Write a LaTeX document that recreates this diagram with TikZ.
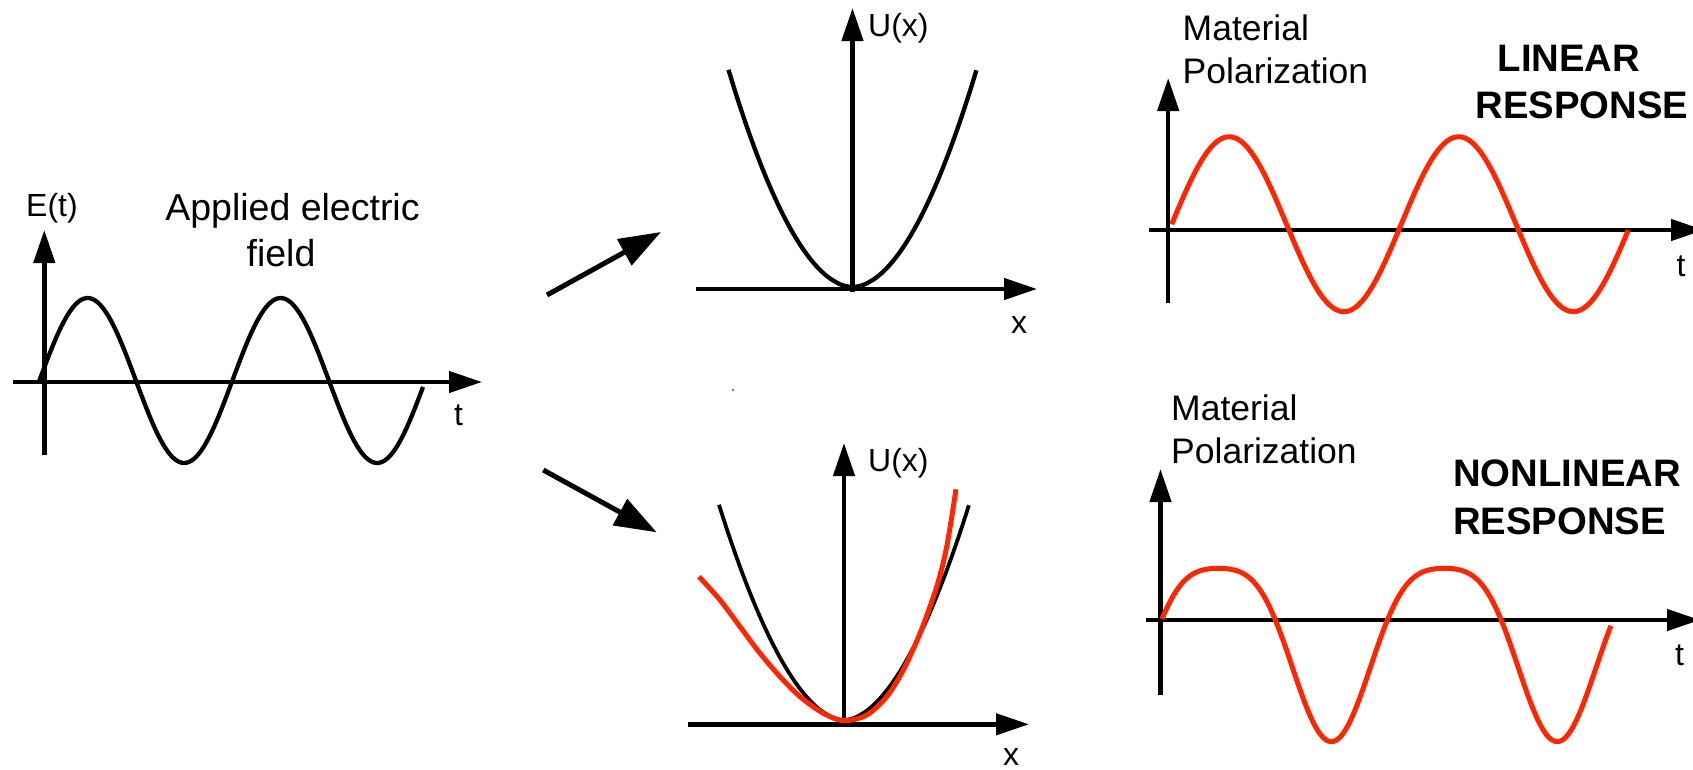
\documentclass[tikz,border=0pt]{standalone}
\usepackage{fontspec}
\setmainfont{Liberation Sans}
\usetikzlibrary{arrows.meta}
\definecolor{pred}{RGB}{255,38,0}
\begin{document}
\begin{tikzpicture}[x=1pt,y=-1pt,
  axis/.style={line width=4.5pt,-{Triangle[length=33pt,width=21pt]}},
  bigarrow/.style={line width=5pt,-{Triangle[length=42pt,width=29pt]}},
  blackcurve/.style={line width=4.3pt,line join=round},
  redcurve/.style={line width=5pt,draw=pred,line join=round},
  lblax/.style={inner sep=0pt,font=\fontsize{32}{38}\selectfont},
  lblapp/.style={inner sep=0pt,font=\fontsize{37.5}{45}\selectfont},
  lblmat/.style={inner sep=0pt,font=\fontsize{35.5}{43}\selectfont},
  lblbold/.style={inner sep=0pt,font=\fontsize{38.3}{46}\selectfont\bfseries}]
\useasboundingbox (0,0) rectangle (1693,769);
\clip (0,0) rectangle (1693,769);

% ---------- Panel 1: applied field ----------
\coordinate (Ebot) at (44.3,455);
\coordinate (Etop) at (44.3,230);
\coordinate (t1l) at (13,382);
\coordinate (t1r) at (482,382);
\draw[axis] (Ebot) -- (Etop);
\draw[axis] (t1l) -- (t1r);
\draw[blackcurve] plot[domain=0:12.49,samples=140] ({39.4+193*\x/6.28319},{380.5-82.5*sin(\x r)});
\node[lblax,anchor=base west] (Et) at (26,216.7) {E(t)};
\node[lblax,anchor=base] (t1) at (458.5,425) {t};
\node[lblapp,anchor=base] (app1) at (292.5,220) {Applied electric};
\node[lblapp,anchor=base] (app2) at (281,266.7) {field};

% ---------- arrows ----------
\coordinate (a1s) at (547,295);
\coordinate (a1e) at (661,232);
\coordinate (a2s) at (543.3,470);
\coordinate (a2e) at (656.7,532.3);
\draw[bigarrow] (a1s) -- (a1e);
\draw[bigarrow] (a2s) -- (a2e);
\fill[gray] (732.3,389) rectangle (734.3,391);

% ---------- Panel 2: harmonic potential ----------
\coordinate (U1b) at (852.5,292);
\coordinate (U1t) at (852.5,8);
\coordinate (x1l) at (696,289);
\coordinate (x1r) at (1037,289);
\draw[axis] (U1b) -- (U1t);
\draw[axis] (x1l) -- (x1r);
\draw[blackcurve] plot[domain=-1:1,samples=101] ({852.5+124*\x},{287-217*exp(1.9*ln(abs(\x)+0.0005))});
\node[lblax,anchor=base west] (U1) at (868,36.5) {U(x)};
\node[lblax,anchor=base] (x1) at (1019,333.3) {x};

% ---------- Panel 3: anharmonic potential ----------
\coordinate (U2b) at (844,727);
\coordinate (U2t) at (844,443);
\coordinate (x2l) at (688,724.3);
\coordinate (x2r) at (1029,724.3);
\draw[axis] (U2b) -- (U2t);
\draw[axis] (x2l) -- (x2r);
\draw[blackcurve,line width=3.8pt] plot[domain=-1:1,samples=101] ({844+125*\x},{720-215*exp(1.85*ln(abs(\x)+0.0005))});
\draw[redcurve] plot[smooth] coordinates {(699,576.7) (720,600) (740,626.7) (760,653.3) (780,676.7) (800,696.7) (823.3,713.3) (844,720.7) (866.7,715) (886.7,696.7) (903.3,670) (920,633.3) (936.7,586.7) (946.7,546.7) (956,489.3)};
\node[lblax,anchor=base west] (U2) at (868,471.6) {U(x)};
\node[lblax,anchor=base] (x2) at (1011,765.5) {x};

% ---------- Panel 4: linear response ----------
\coordinate (P1b) at (1168.2,303.3);
\coordinate (P1t) at (1168.2,78);
\coordinate (t2l) at (1148.8,230);
\coordinate (t2r) at (1704,230);
\draw[axis] (P1b) -- (P1t);
\draw[axis] (t2l) -- (t2r);
\draw[redcurve] plot[domain=0:12.5,samples=140] ({1171.7+229.5*\x/6.28319},{224.2-87.5*sin(\x r)});
\node[lblmat,anchor=base west] (mat1) at (1182.5,40.7) {Material};
\node[lblmat,anchor=base west] (pol1) at (1182.5,83.3) {Polarization};
\node[lblbold,anchor=base] (lin1) at (1569,71.7) {LINEAR};
\node[lblbold,anchor=base] (resp1) at (1582,118.3) {RESPONSE};
\node[lblax,anchor=base] (t2) at (1681,276.7) {t};

% ---------- Panel 5: nonlinear response ----------
\coordinate (P2b) at (1160.5,695);
\coordinate (P2t) at (1160.5,469);
\coordinate (t3l) at (1146.3,620);
\coordinate (t3r) at (1700,620);
\draw[axis] (P2b) -- (P2t);
\draw[axis] (t3l) -- (t3r);
\draw[redcurve] plot[domain=0:12.49,samples=160] ({1162+225.8*\x/6.28319},{619-(86.7*sin(\x r)-36*sin(\x r)*sin(\x r))});
\node[lblmat,anchor=base west] (mat2) at (1171,420) {Material};
\node[lblmat,anchor=base west] (pol2) at (1171,463.3) {Polarization};
\node[lblbold,anchor=base west] (nonlin) at (1453,486.7) {NONLINEAR};
\node[lblbold,anchor=base west] (resp2) at (1453,534) {RESPONSE};
\node[lblax,anchor=base] (t3) at (1679.5,665) {t};
\end{tikzpicture}
\end{document}
